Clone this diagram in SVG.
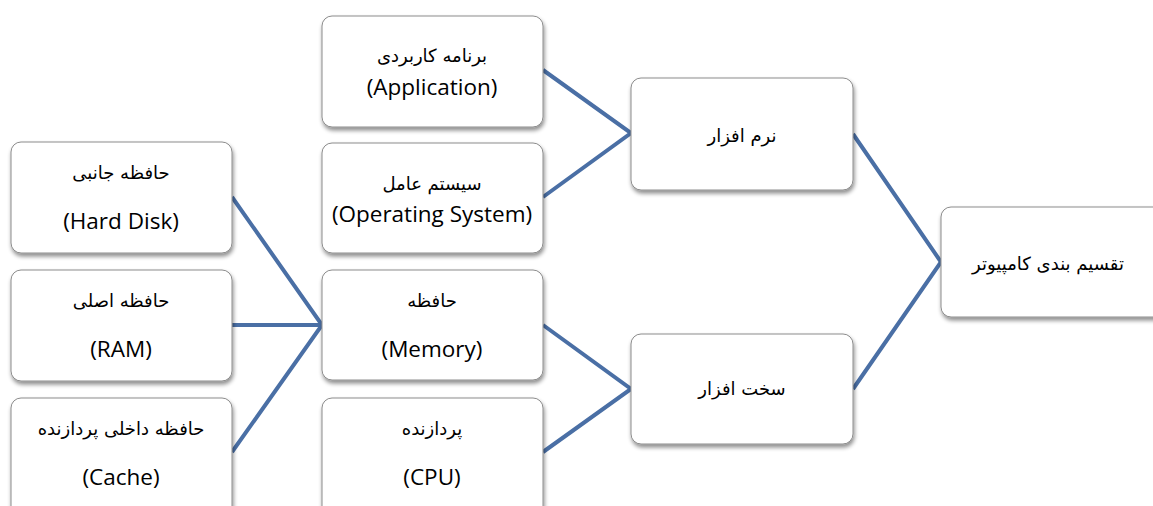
<svg xmlns="http://www.w3.org/2000/svg" width="1153" height="506" viewBox="0 0 1153 506">
  <defs>
    <filter id="shadow" x="-10%" y="-10%" width="125%" height="130%">
      <feGaussianBlur in="SourceAlpha" stdDeviation="2"/>
      <feOffset dx="1" dy="3" result="b"/>
      <feComponentTransfer><feFuncA type="linear" slope="0.45"/></feComponentTransfer>
      <feMerge><feMergeNode/><feMergeNode in="SourceGraphic"/></feMerge>
    </filter>
  </defs>
  <style>
    .box { fill: #ffffff; stroke: #8c8c8c; stroke-width: 1; filter: url(#shadow); }
    .fa { font-family: "DejaVu Sans", "Noto Sans", sans-serif; font-size: 18px; fill: #000; text-anchor: middle; direction: rtl; }
    .en { font-family: "Open Sans", "Lato", "Liberation Sans", sans-serif; font-size: 22.5px; fill: #000; text-anchor: middle; }
    .link { stroke: #4a6fa5; stroke-width: 4; fill: none; stroke-linecap: butt; stroke-linejoin: miter; }
  </style>
  <rect width="1153" height="506" fill="#ffffff"/>

  <g id="connectors">
    <polyline class="link" points="543,70 631,133 543,197"/>
    <polyline class="link" points="543,325 631,389 543,452"/>
    <polyline class="link" points="853,134 941,262 853,389"/>
    <polyline class="link" points="232,197 322,325 232,452"/>
    <line class="link" x1="232" y1="325" x2="322" y2="325"/>
  </g>

  <g id="hard-disk">
    <rect class="box" x="11" y="142" width="221" height="111" rx="10"/>
    <text class="fa" x="121" y="179">حافظه جانبی</text>
    <text class="en" x="121" y="229">(Hard Disk)</text>
  </g>
  <g id="ram">
    <rect class="box" x="11" y="270" width="221" height="111" rx="10"/>
    <text class="fa" x="121" y="307">حافظه اصلی</text>
    <text class="en" x="121" y="357">(RAM)</text>
  </g>
  <g id="cache">
    <rect class="box" x="11" y="398" width="221" height="120" rx="10"/>
    <text class="fa" x="121" y="435">حافظه داخلی پردازنده</text>
    <text class="en" x="121" y="485">(Cache)</text>
  </g>

  <g id="application">
    <rect class="box" x="322" y="16" width="221" height="111" rx="10"/>
    <text class="fa" x="432" y="62">برنامه کاربردی</text>
    <text class="en" x="432" y="95">(Application)</text>
  </g>
  <g id="operating-system">
    <rect class="box" x="322" y="143" width="221" height="110" rx="10"/>
    <text class="fa" x="432" y="190">سیستم عامل</text>
    <text class="en" x="432" y="222">(Operating System)</text>
  </g>
  <g id="memory">
    <rect class="box" x="322" y="270" width="221" height="110" rx="10"/>
    <text class="fa" x="432" y="307">حافظه</text>
    <text class="en" x="432" y="357">(Memory)</text>
  </g>
  <g id="cpu">
    <rect class="box" x="322" y="398" width="221" height="120" rx="10"/>
    <text class="fa" x="432" y="435">پردازنده</text>
    <text class="en" x="432" y="485">(CPU)</text>
  </g>

  <g id="software">
    <rect class="box" x="631" y="78" width="222" height="112" rx="10"/>
    <text class="fa" x="742" y="142">نرم افزار</text>
  </g>
  <g id="hardware">
    <rect class="box" x="631" y="334" width="222" height="110" rx="10"/>
    <text class="fa" x="742" y="395">سخت افزار</text>
  </g>

  <g id="computer">
    <rect class="box" x="941" y="207" width="230" height="110" rx="10"/>
    <text class="fa" x="1048" y="270">تقسیم بندی کامپیوتر</text>
  </g>
</svg>
